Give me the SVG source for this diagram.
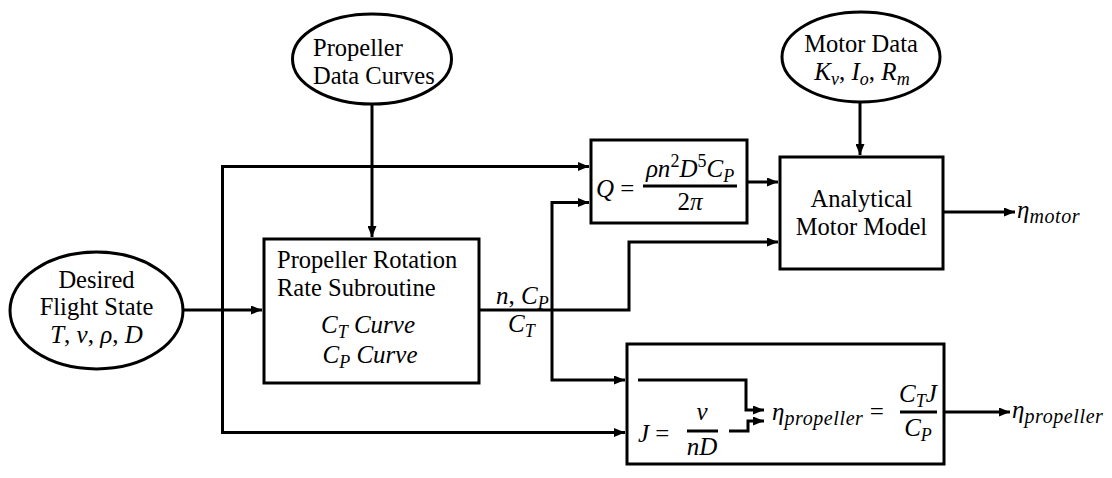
<svg xmlns="http://www.w3.org/2000/svg" width="1112" height="478" viewBox="0 0 1112 478">
<style>
.shape{fill:#fff;stroke:#000;stroke-width:3}
.ln{fill:none;stroke:#000;stroke-width:3}
.t{font-family:"Liberation Serif",serif;font-size:24.5px;fill:#000}
.m{font-family:"Liberation Serif",serif;font-style:italic;font-size:25px;fill:#000}
.r{font-style:normal}
.s{font-size:18px}
.sw{font-size:20px;letter-spacing:0.6px}
</style>
<defs>
<marker id="ah" markerUnits="userSpaceOnUse" markerWidth="11" markerHeight="9" refX="11" refY="4.5" orient="auto">
<path d="M0,0 L11,4.5 L0,9 z" fill="#000"/>
</marker>
</defs>
<rect width="1112" height="478" fill="#fff"/>

<g id="connectors">
<path class="ln" d="M183,310 H262" stroke-width="4" marker-end="url(#ah)"/>
<path class="ln" d="M222.5,310 V432.5 H625" marker-end="url(#ah)"/>
<path class="ln" d="M222.5,310 V166.5 H589" marker-end="url(#ah)"/>
<path class="ln" d="M372,104 V237" marker-end="url(#ah)"/>
<path class="ln" d="M479,310 H629 V242 H778" marker-end="url(#ah)"/>
<path class="ln" d="M552,310 V202.5 H589" marker-end="url(#ah)"/>
<path class="ln" d="M552,310 V380 H625" marker-end="url(#ah)"/>
<path class="ln" d="M747,182 H778" marker-end="url(#ah)"/>
<path class="ln" d="M860,102 V155" marker-end="url(#ah)"/>
<path class="ln" d="M943,212 H1015" marker-end="url(#ah)"/>
<path class="ln" d="M944,412 H1010" marker-end="url(#ah)"/>
</g>

<g id="flight-state">
<ellipse class="shape" cx="96.5" cy="310.5" rx="86.5" ry="58.5"/>
<text class="t" x="96.5" y="288" text-anchor="middle">Desired</text>
<text class="t" x="96.5" y="315" text-anchor="middle">Flight State</text>
<text class="m" x="96.5" y="343" text-anchor="middle">T<tspan class="r">, </tspan>v<tspan class="r">, </tspan>ρ<tspan class="r">, </tspan>D</text>
</g>

<g id="propeller-data">
<ellipse class="shape" cx="372" cy="59" rx="79.5" ry="45"/>
<text class="t" x="313" y="56">Propeller</text>
<text class="t" x="313" y="84">Data Curves</text>
</g>

<g id="motor-data">
<ellipse class="shape" cx="861" cy="57" rx="79" ry="45"/>
<text class="t" x="861" y="52" text-anchor="middle">Motor Data</text>
<text class="m" x="862" y="80" text-anchor="middle">K<tspan class="s" dy="5">v</tspan><tspan class="r" dy="-5">,  </tspan>I<tspan class="s" dy="5">o</tspan><tspan class="r" dy="-5">, </tspan>R<tspan class="s" dy="5">m</tspan></text>
</g>

<g id="rotation-subroutine">
<rect class="shape" x="264" y="239" width="215" height="144"/>
<text class="t" x="277" y="268">Propeller Rotation</text>
<text class="t" x="277" y="296">Rate Subroutine</text>
<text class="m" x="368" y="333" text-anchor="middle">C<tspan class="s" dy="5">T</tspan><tspan dy="-5"> Curve</tspan></text>
<text class="m" x="370" y="363" text-anchor="middle">C<tspan class="s" dy="5">P</tspan><tspan dy="-5"> Curve</tspan></text>
</g>

<g id="output-labels">
<text class="m" x="496" y="304">n<tspan class="r">, </tspan>C<tspan class="s" dy="5">P</tspan></text>
<text class="m" x="508" y="332">C<tspan class="s" dy="5">T</tspan></text>
</g>

<g id="torque">
<rect class="shape" x="591" y="140" width="156" height="83"/>
<text class="m" x="596" y="197">Q <tspan class="r">=</tspan></text>
<text class="m" x="690" y="177" text-anchor="middle">ρn<tspan class="r s" dy="-10">2</tspan><tspan dy="10">D</tspan><tspan class="r s" dy="-10">5</tspan><tspan dy="10">C</tspan><tspan class="s" dy="5">P</tspan></text>
<line class="ln" x1="643" y1="186" x2="737" y2="186" stroke-width="2"/>
<text class="m" x="690" y="210" text-anchor="middle"><tspan class="r">2</tspan>π</text>
</g>

<g id="motor-model">
<rect class="shape" x="780" y="157" width="163" height="112"/>
<text class="t" x="861.5" y="207" text-anchor="middle">Analytical</text>
<text class="t" x="861.5" y="235" text-anchor="middle">Motor Model</text>
</g>

<g id="efficiency">
<rect class="shape" x="627" y="344" width="317" height="120"/>
<path class="ln" d="M638,380 H746 V410 H764" stroke-width="3.5" marker-end="url(#ah)"/>
<path class="ln" d="M729,431 H748 V421 H764" stroke-width="3.5" marker-end="url(#ah)"/>
<text class="m" x="638" y="442">J <tspan class="r">=</tspan></text>
<text class="m" x="702" y="420" text-anchor="middle">v</text>
<line class="ln" x1="687" y1="431" x2="718" y2="431" stroke-width="2"/>
<text class="m" x="702" y="455" text-anchor="middle">nD</text>
<text class="m" x="772" y="420">η<tspan class="sw" dy="5">propeller</tspan><tspan class="r" dy="-5"> =</tspan></text>
<text class="m" x="918" y="402" text-anchor="middle">C<tspan class="s" dy="5">T</tspan><tspan dy="-5">J</tspan></text>
<line class="ln" x1="900" y1="412" x2="937" y2="412" stroke-width="2"/>
<text class="m" x="918" y="436" text-anchor="middle">C<tspan class="s" dy="5">P</tspan></text>
</g>

<g id="outputs">
<text class="m" x="1017" y="218">η<tspan class="sw" dy="5">motor</tspan></text>
<text class="m" x="1012" y="418">η<tspan class="sw" dy="5">propeller</tspan></text>
</g>
</svg>
